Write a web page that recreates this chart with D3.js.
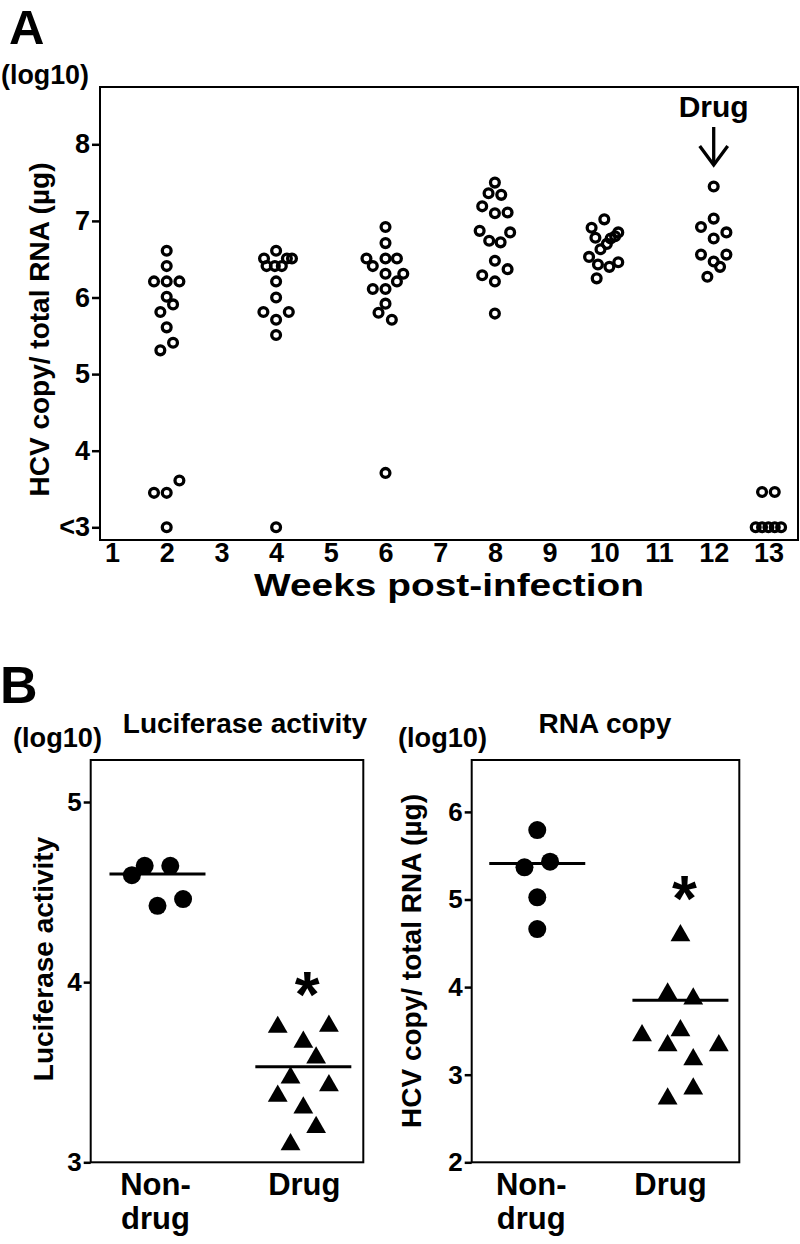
<!DOCTYPE html>
<html><head><meta charset="utf-8">
<script src="https://cdn.jsdelivr.net/npm/d3@7"></script>
<style>
body{margin:0;background:#fff}
svg text{font-family:"Liberation Sans",Arial,sans-serif;font-weight:bold;fill:#000}
</style>
</head><body>
<svg id="chart" width="800" height="1244"></svg>
<script>
// ---------------- DATA ----------------
// Panel A: HCV copy (log10) by week post-infection
const weeks = [1,2,3,4,5,6,7,8,9,10,11,12,13];
const weekTickLabels = ["1","2","3","4","5","6","7","8","9","10","11","12","13"];
const yTicksA = [3,4,5,6,7,8];
const yTickLabelsA = ["<3","4","5","6","7","8"];
const sampleWeeks = [2,4,6,8,10,12,13];
const drugWeek = 12;

const week2Values = [6.61,6.41,6.21,6.21,6.21,6.01,5.91,5.81,5.61,5.41,5.31,3.61,3.45,3.45,3.0];
const week2Slots  = [0,0,-1,0,1,0,0.5,-0.5,0,0.5,-0.5,1,-1,0,0];
const week4Values = [6.61,6.51,6.51,6.51,6.41,6.41,6.41,6.21,6.00,5.81,5.81,5.71,5.51,3.0];
const week4Slots  = [0,-0.95,0.85,1.25,-0.75,-0.1,0.45,0,0,-1,1,0,0,0];
const week6Values = [6.92,6.71,6.51,6.51,6.51,6.41,6.31,6.31,6.21,6.11,6.11,5.92,5.80,5.71,3.71];
const week6Slots  = [0,0,-1.5,0,0.9,-1,0,1.4,0.9,-1,0,0,-0.55,0.5,0];
const week8Values = [7.50,7.36,7.34,7.19,7.10,7.11,6.87,6.85,6.74,6.72,6.48,6.37,6.29,6.21,5.79];
const week8Slots  = [0,-0.5,0.5,-1,0,1,-1.2,1.2,-0.45,0.45,0,1,-1,0,0];
const week10Values = [7.02,6.91,6.85,6.80,6.78,6.77,6.70,6.63,6.53,6.46,6.43,6.40,6.25];
const week10Slots  = [0,-1,1.1,0.85,-0.7,0.5,0.2,-0.3,-1.2,1.1,-0.5,0.4,-0.6];
const week12Values = [7.45,7.03,6.92,6.85,6.77,6.56,6.56,6.47,6.40,6.27];
const week12Slots  = [0,0,-1,1,0,-1,1,0,0.5,-0.5];
const week13Values = [3.46,3.46,3.0,3.0,3.0,3.0,3.0];
const week13Slots  = [-0.5,0.5,-1,-0.5,0,0.5,1];

// Panel B
const groupsB = ["Non-drug","Drug"];
const groupLabelLine1 = ["Non-","Drug"];
const groupLabelLine2 = ["drug",""];
const yTicksLuc = [3,4,5];
const yTicksRna = [2,3,4,5,6];
const lucNonDrug = [4.646,4.646,4.594,4.461,4.424];
const lucNonDrugSlots = [-1,1,-2,2,0];
const lucDrug = [3.759,3.765,3.676,3.589,3.478,3.435,3.376,3.311,3.203,3.107];
const lucDrugSlots = [-2,2,0,1,-1,2,-2,0,1,-1];
const lucCenterLines = [4.60,3.53];
const lucStar = 3.98;
const rnaNonDrug = [5.793,5.432,5.368,5.025,4.663];
const rnaNonDrugSlots = [0,1,-1,0,0];
const rnaDrug = [4.606,3.941,3.884,3.522,3.465,3.350,3.350,3.191,2.856,2.742];
const rnaDrugSlots = [0,-1,1,0,-3,-1,3,1,1,-1];
const rnaCenterLines = [5.41,3.85];
const rnaStar = 5.11;

// ---------------- DRAW ----------------
const svg = d3.select("#chart");
svg.append("rect").attr("width",800).attr("height",1244).attr("fill","#fff");

function styleAxis(g, fs){
  g.attr("font-family",null).attr("font-size",null);
  g.select(".domain").remove();
  g.selectAll(".tick line").attr("stroke","#000").attr("stroke-width",2.5);
  g.selectAll(".tick text").attr("font-size",fs).attr("fill","#000");
}

// ===== Panel A =====
const A = {left:100,right:798,top:87,bottom:540};
const xA = d3.scaleLinear().domain([1,13]).range([112,768.4]);
const yA = d3.scaleLinear().domain([3,8]).range([527.3,144.3]);
const slotA = 12.7;

svg.append("text").attr("x",9).attr("y",44).attr("font-size",49).text("A");
svg.append("text").attr("x",1).attr("y",84).attr("font-size",27).attr("textLength",88)
  .attr("lengthAdjust","spacingAndGlyphs").text("(log10)");

svg.append("rect").attr("x",A.left).attr("y",A.top)
  .attr("width",A.right-A.left).attr("height",A.bottom-A.top)
  .attr("fill","none").attr("stroke","#000").attr("stroke-width",2);

const gyA = svg.append("g").attr("transform",`translate(${A.left},0)`)
  .call(d3.axisLeft(yA).tickValues(yTicksA).tickFormat((d,i)=>yTickLabelsA[i]).tickSize(8).tickPadding(2));
styleAxis(gyA,27);

const gxA = svg.append("g").attr("transform",`translate(0,${A.bottom})`)
  .call(d3.axisBottom(xA).tickValues(weeks).tickFormat((d,i)=>weekTickLabels[i]).tickSize(0).tickPadding(3));
styleAxis(gxA,27);

svg.append("text").attr("x",(A.left+A.right)/2).attr("y",596).attr("text-anchor","middle")
  .attr("font-size",31).attr("textLength",390).attr("lengthAdjust","spacingAndGlyphs")
  .text("Weeks post-infection");

svg.append("text").attr("transform",`translate(49,${(A.top+A.bottom)/2+16}) rotate(-90)`)
  .attr("text-anchor","middle").attr("font-size",28).text("HCV copy/ total RNA (\u00b5g)");

const seriesA = [
  {week:2, values:week2Values, slots:week2Slots},
  {week:4, values:week4Values, slots:week4Slots},
  {week:6, values:week6Values, slots:week6Slots},
  {week:8, values:week8Values, slots:week8Slots},
  {week:10, values:week10Values, slots:week10Slots},
  {week:12, values:week12Values, slots:week12Slots},
  {week:13, values:week13Values, slots:week13Slots}
];
const pointsA = seriesA.flatMap(s => s.values.map((v,i)=>({week:s.week, value:v, slot:s.slots[i]})));
svg.append("g").selectAll("circle").data(pointsA).join("circle")
  .attr("cx",d=>xA(d.week)+d.slot*slotA)
  .attr("cy",d=>yA(d.value))
  .attr("r",4.4).attr("fill","none").attr("stroke","#000").attr("stroke-width",3.3);

// Drug annotation
const dx = xA(drugWeek);
svg.append("text").attr("x",dx).attr("y",117).attr("text-anchor","middle").attr("font-size",30).text("Drug");
const arrow = svg.append("g").attr("stroke","#000").attr("stroke-width",3.3).attr("fill","none");
arrow.append("line").attr("x1",dx).attr("x2",dx).attr("y1",127).attr("y2",164);
arrow.append("path").attr("d",`M${dx-14},${146}L${dx},${165}L${dx+14},${146}`);

// ===== Panel B =====
svg.append("text").attr("x",0).attr("y",703).attr("font-size",52).text("B");

function panelB(opt){
  const f = opt.frame;
  const w = f.right-f.left;
  const x = d3.scalePoint().domain(groupsB).range([f.left+0.245*w, f.left+0.78*w]);
  const y = d3.scaleLinear().domain(opt.domain).range(opt.range);
  svg.append("text").attr("x",opt.logX).attr("y",747).attr("font-size",27).attr("textLength",89)
    .attr("lengthAdjust","spacingAndGlyphs").text("(log10)");
  svg.append("text").attr("x",opt.titleX).attr("y",733).attr("text-anchor","middle")
    .attr("font-size",28).text(opt.title);
  svg.append("rect").attr("x",f.left).attr("y",f.top).attr("width",w).attr("height",f.bottom-f.top)
    .attr("fill","none").attr("stroke","#000").attr("stroke-width",2);
  const gy = svg.append("g").attr("transform",`translate(${f.left},0)`)
    .call(d3.axisLeft(y).tickValues(opt.ticks).tickFormat(d3.format("d")).tickSize(7).tickPadding(2));
  styleAxis(gy,26);
  svg.append("text").attr("transform",`translate(${opt.ytX},${opt.ytY}) rotate(-90)`)
    .attr("text-anchor","middle").attr("font-size",28).text(opt.ytitle);
  // group labels
  groupsB.forEach((g,i)=>{
    svg.append("text").attr("x",x(g)+opt.labelShift[i]).attr("y",1195).attr("text-anchor","middle").attr("font-size",31).text(groupLabelLine1[i]);
    if(groupLabelLine2[i]) svg.append("text").attr("x",x(g)+opt.labelShift[i]).attr("y",1229).attr("text-anchor","middle").attr("font-size",31).text(groupLabelLine2[i]);
  });
  const unit = 12.8;
  // circles
  svg.append("g").selectAll("circle").data(opt.nd.map((v,i)=>({v,s:opt.ndSlots[i]}))).join("circle")
    .attr("cx",d=>x(groupsB[0])+d.s*unit).attr("cy",d=>y(d.v)).attr("r",9).attr("fill","#000");
  // triangles
  const tri = d3.symbol().type(d3.symbolTriangle).size(170);
  svg.append("g").selectAll("path").data(opt.dr.map((v,i)=>({v,s:opt.drSlots[i]}))).join("path")
    .attr("d",tri).attr("fill","#000")
    .attr("transform",d=>`translate(${x(groupsB[1])+d.s*unit},${y(d.v)+1.5})`);
  // center lines
  svg.append("g").selectAll("line").data(opt.lines).join("line")
    .attr("x1",(d,i)=>x(groupsB[i])-48).attr("x2",(d,i)=>x(groupsB[i])+48)
    .attr("y1",d=>y(d)).attr("y2",d=>y(d)).attr("stroke","#000").attr("stroke-width",3);
  // star
  svg.append("text").attr("x",x(groupsB[1])+4).attr("y",y(opt.star)+31).attr("text-anchor","middle")
    .attr("font-size",64).text("*");
}

panelB({
  frame:{left:90.7,right:363.3,top:760,bottom:1162.3},
  domain:[3,5], range:[1162.3,802], ticks:yTicksLuc,
  title:"Luciferase activity", titleX:245, logX:13,
  ytitle:"Luciferase activity", ytX:53, ytY:959,
  nd:lucNonDrug, ndSlots:lucNonDrugSlots, dr:lucDrug, drSlots:lucDrugSlots,
  lines:lucCenterLines, star:lucStar, labelShift:[-2,1]
});
panelB({
  frame:{left:471.7,right:739.3,top:760,bottom:1162.3},
  domain:[2,6], range:[1162.3,811.9], ticks:yTicksRna,
  title:"RNA copy", titleX:605, logX:398,
  ytitle:"HCV copy/ total RNA (\u00b5g)", ytX:421, ytY:961,
  nd:rnaNonDrug, ndSlots:rnaNonDrugSlots, dr:rnaDrug, drSlots:rnaDrugSlots,
  lines:rnaCenterLines, star:rnaStar, labelShift:[-6,-10]
});
</script>
</body></html>
